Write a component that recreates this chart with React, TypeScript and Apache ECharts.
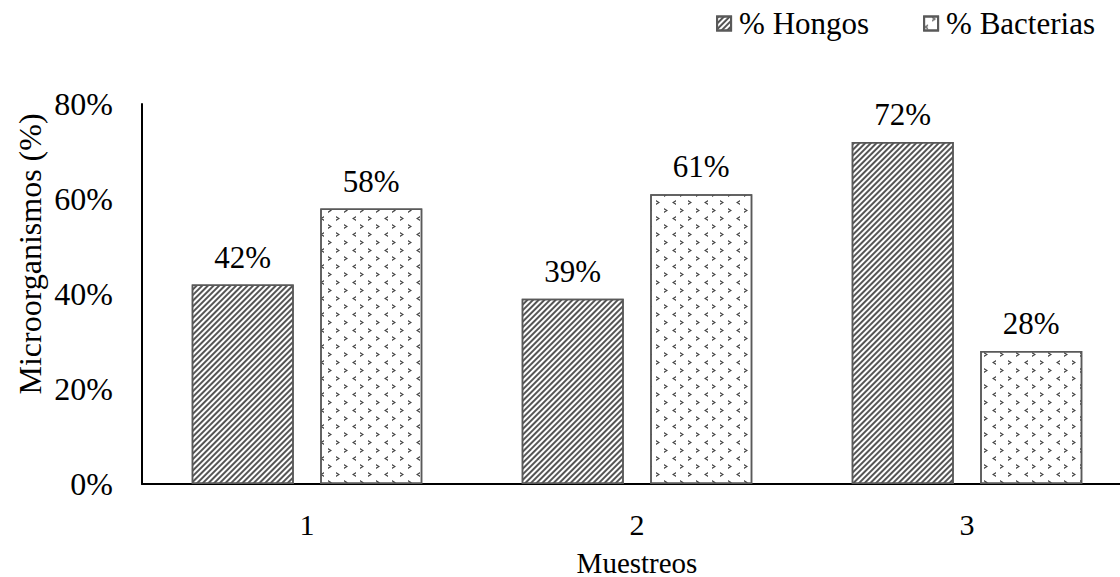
import React, { useEffect, useRef } from "react";
import * as echarts from "echarts";

const categories = ["1", "2", "3"];
const hongos = [42, 39, 72];
const bacterias = [58, 61, 28];
const seriesNames = ["% Hongos", "% Bacterias"];
const yTitle = "Microorganismos (%)";
const xTitle = "Muestreos";

const FONT = "'Liberation Serif', 'Times New Roman', serif";

const chevronLeft = "path://M4,0 L0,2.5 L4,5 L4,3.6 L2,2.5 L4,1.4 Z";
const chevronRight = "path://M0,0 L4,2.5 L0,5 L0,3.6 L2,2.5 L0,1.4 Z";

export default function App() {
  const ref = useRef<HTMLDivElement>(null);

  useEffect(() => {
    document.body.style.margin = "0";
    if (!ref.current) return;
    const chart = echarts.init(ref.current, null, { renderer: "svg" });

    const label = {
      show: true,
      position: "top" as const,
      distance: 12,
      formatter: "{c}%",
      color: "#000",
      fontFamily: FONT,
      fontSize: 31,
    };

    chart.setOption({
      animation: false,
      backgroundColor: "#fff",
      textStyle: { fontFamily: FONT },
      legend: {
        right: 20,
        top: 3,
        itemWidth: 14,
        itemHeight: 14,
        itemGap: 54,
        icon: "rect",
        textStyle: {
          fontFamily: FONT,
          fontSize: 31,
          color: "#000",
          padding: [0, 0, 0, 3],
        },
        data: seriesNames,
      },
      graphic: [
        {
          type: "text",
          x: 30,
          y: 254,
          rotation: Math.PI / 2,
          style: {
            text: yTitle,
            fontFamily: FONT,
            fontSize: 32,
            fill: "#000",
            align: "center",
            verticalAlign: "middle",
          },
        },
      ],
      grid: {
        left: 142,
        top: 104,
        right: -12,
        bottom: 93,
        outerBoundsMode: "none",
      },
      xAxis: {
        type: "category",
        data: categories,
        name: xTitle,
        nameLocation: "middle",
        nameGap: 64,
        nameTextStyle: { fontFamily: FONT, fontSize: 29, color: "#000" },
        axisLine: { lineStyle: { color: "#000", width: 2 } },
        axisTick: { show: false },
        axisLabel: {
          fontFamily: FONT,
          fontSize: 30,
          color: "#000",
          margin: 25,
        },
      },
      yAxis: {
        type: "value",
        min: 0,
        max: 80,
        interval: 20,
        axisLine: { show: true, lineStyle: { color: "#000", width: 2 } },
        axisTick: { show: false },
        splitLine: { show: false },
        axisLabel: {
          formatter: "{value}%",
          fontFamily: FONT,
          fontSize: 32,
          color: "#000",
          margin: 29,
        },
      },
      series: [
        {
          name: seriesNames[0],
          type: "bar",
          data: hongos,
          barWidth: 102,
          barGap: "26%",
          label,
          itemStyle: {
            color: "#fff",
            borderColor: "#595959",
            borderWidth: 1.5,
            decal: {
              symbol: "rect",
              symbolSize: 1,
              color: "#555",
              dashArrayX: [1, 0],
              dashArrayY: [1.6, 1.9],
              rotation: -Math.PI / 4,
            },
          },
        },
        {
          name: seriesNames[1],
          type: "bar",
          data: bacterias,
          barWidth: 102,
          label,
          itemStyle: {
            color: "#fff",
            borderColor: "#595959",
            borderWidth: 1.5,
            decal: {
              symbol: [chevronLeft, chevronRight],
              symbolSize: 1,
              color: "#444",
              dashArrayX: [
                [4, 12],
                [0, 8, 4, 4],
              ],
              dashArrayY: [5, 3],
              rotation: 0,
            },
          },
        },
      ],
    });

    return () => chart.dispose();
  }, []);

  return <div ref={ref} style={{ width: 1120, height: 577 }} />;
}
